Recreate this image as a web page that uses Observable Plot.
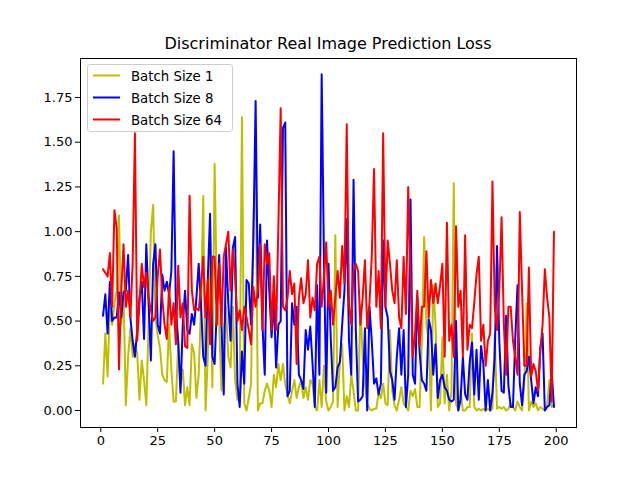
<!DOCTYPE html>
<html>
<head>
<meta charset="utf-8">
<script src="https://cdn.jsdelivr.net/npm/d3@7"></script>
<script src="https://cdn.jsdelivr.net/npm/@observablehq/plot@0.6"></script>
<style>
  html, body { margin: 0; padding: 0; background: white; }
</style>
</head>
<body>
<div id="chart"></div>
<script>
const title = "Discriminator Real Image Prediction Loss";
const seriesNames = ["Batch Size 1", "Batch Size 8", "Batch Size 64"];
const seriesColors = ["#bfbf00", "#0000ff", "#ff0000"];
const xTicks = [0, 25, 50, 75, 100, 125, 150, 175, 200];
const yTicks = [0, 0.25, 0.5, 0.75, 1.0, 1.25, 1.5, 1.75];

const batch1 = [
  0.15, 0.43, 0.19, 0.60, 0.48, 0.60, 0.67, 1.09, 0.48, 0.67,
  0.03, 0.30, 0.46, 0.30, 0.37, 0.32, 0.06, 0.28, 0.17, 0.03,
  0.48, 1.00, 1.15, 0.52, 0.42, 0.35, 0.20, 0.17, 0.16, 0.48,
  0.23, 0.05, 0.05, 0.38, 0.14, 0.23, 0.03, 0.13, 0.03, 0.37,
  0.32, 0.07, 0.20, 0.58, 1.20, 0.00, 0.30, 0.96, 0.13, 1.38,
  0.60, 0.48, 0.11, 0.45, 0.58, 0.30, 0.24, 0.58, 0.17, 0.06,
  0.11, 1.64, 0.04, 0.00, 0.07, 0.15, 1.04, 1.41, 0.00, 0.04,
  0.04, 0.11, 0.15, 0.11, 0.02, 0.20, 0.13, 0.26, 0.17, 0.26,
  0.15, 0.09, 0.04, 0.11, 0.17, 0.07, 0.13, 0.17, 0.07, 0.13,
  0.06, 0.17, 0.15, 0.02, 0.00, 0.17, 0.02, 0.25, 0.05, 0.00,
  0.02, 0.05, 0.98, 0.02, 0.28, 0.37, 0.00, 0.08, 0.02, 0.20,
  0.11, 0.00, 0.00, 0.59, 0.30, 0.15, 0.04, 0.01, 0.00, 0.01,
  0.01, 0.10, 0.07, 0.15, 0.04, 0.03, 0.45, 0.11, 0.03, 0.00,
  0.06, 0.13, 0.04, 0.02, 0.00, 0.11, 0.08, 0.12, 0.02, 0.02,
  0.39, 0.97, 0.48, 0.39, 0.00, 0.70, 0.48, 0.02, 0.04, 0.41,
  0.04, 0.20, 0.00, 0.11, 1.27, 0.04, 0.00, 0.11, 0.00, 0.00,
  0.02, 0.02, 0.43, 0.02, 0.00, 0.01, 0.00, 0.01, 0.00, 0.01,
  0.00, 0.01, 0.43, 0.01, 0.02, 0.01, 0.02, 0.00, 0.01, 0.04,
  0.02, 0.00, 0.05, 0.02, 0.00, 0.15, 0.60, 0.00, 0.05, 0.02,
  0.04, 0.00, 0.02, 0.01, 0.00, 0.03, 0.17, 0.02, 0.03
];

const batch8 = [
  0.53, 0.65, 0.43, 0.72, 0.50, 0.52, 0.52, 0.66, 0.52, 0.66,
  0.67, 0.87, 0.52, 0.39, 0.30, 0.45, 0.63, 0.72, 0.40, 0.93,
  0.60, 0.28, 0.82, 0.93, 0.48, 0.43, 0.76, 0.67, 0.72, 0.65,
  0.78, 1.45, 0.56, 0.39, 0.10, 0.48, 0.67, 0.45, 0.43, 0.54,
  0.48, 0.63, 0.82, 0.60, 0.30, 0.25, 0.74, 1.10, 0.30, 0.26,
  0.58, 0.87, 0.48, 0.09, 0.91, 0.60, 0.39, 0.91, 0.97, 0.15,
  0.02, 0.33, 0.15, 0.73, 0.71, 0.48, 0.95, 1.73, 0.63, 1.04,
  0.48, 0.20, 0.95, 0.67, 0.41, 0.62, 0.24, 0.48, 0.50, 1.58,
  1.61, 0.08, 0.11, 0.60, 0.48, 0.58, 0.20, 0.17, 0.12, 0.45,
  0.34, 0.47, 0.26, 0.02, 0.70, 0.20, 1.88, 0.86, 0.10, 0.82,
  0.40, 0.11, 0.13, 0.24, 0.27, 0.48, 0.67, 1.07, 0.39, 0.20,
  1.29, 0.45, 0.05, 0.06, 0.08, 0.46, 0.00, 0.58, 0.39, 0.15,
  0.18, 0.09, 0.15, 0.95, 0.58, 0.52, 0.22, 0.17, 0.06, 0.30,
  0.46, 0.20, 0.45, 0.02, 0.20, 1.18, 0.20, 0.15, 0.63, 0.33,
  0.17, 0.15, 0.11, 0.51, 0.45, 0.20, 0.37, 0.07, 0.17, 0.20,
  0.13, 0.11, 0.06, 0.05, 0.06, 0.50, 0.00, 0.06, 0.30, 0.09,
  0.06, 0.27, 0.38, 0.09, 0.34, 0.06, 0.36, 0.26, 0.00, 0.17,
  0.00, 0.10, 0.30, 0.92, 0.39, 0.11, 0.10, 0.53, 0.14, 0.02,
  0.02, 0.40, 0.70, 0.15, 0.03, 0.20, 0.22, 0.30, 0.17, 0.04,
  0.13, 0.08, 0.35, 0.43, 0.00, 0.02, 0.03, 0.22, 0.02
];

const batch64 = [
  0.79, 0.77, 0.75, 0.88, 0.58, 1.12, 1.02, 0.23, 0.67, 0.93,
  0.58, 0.67, 0.52, 0.82, 1.55, 0.39, 0.60, 0.82, 0.69, 0.77,
  0.63, 0.56, 0.50, 0.52, 0.75, 0.90, 0.63, 0.48, 0.40, 0.69,
  0.48, 0.60, 0.37, 0.81, 0.52, 0.60, 0.36, 0.35, 1.20, 0.67,
  0.56, 0.57, 0.56, 0.69, 0.86, 0.52, 0.73, 0.37, 0.86, 0.86,
  0.48, 0.82, 0.48, 0.86, 0.93, 1.00, 0.67, 0.90, 0.74, 0.50,
  0.56, 0.45, 0.58, 0.52, 0.45, 0.37, 0.69, 0.58, 0.67, 0.93,
  0.45, 0.93, 0.82, 0.88, 0.45, 0.75, 0.45, 1.04, 1.69, 0.58,
  0.56, 0.63, 0.78, 0.65, 0.71, 0.26, 0.63, 0.74, 0.60, 0.65,
  0.84, 0.52, 0.63, 0.56, 0.82, 0.86, 0.58, 0.74, 0.94, 0.58,
  0.67, 0.48, 0.63, 0.78, 0.63, 0.92, 0.71, 1.60, 0.60, 0.48,
  0.78, 0.82, 0.78, 0.48, 0.63, 0.84, 0.46, 0.60, 0.86, 1.35,
  0.58, 0.78, 0.46, 1.55, 0.58, 0.95, 0.82, 0.67, 0.60, 0.84,
  0.52, 0.46, 0.86, 0.54, 1.25, 0.75, 0.30, 0.43, 0.67, 0.36,
  0.58, 0.58, 0.89, 0.52, 0.73, 0.60, 0.71, 0.60, 0.70, 0.82,
  0.30, 1.05, 0.39, 0.48, 0.30, 1.03, 0.58, 0.67, 0.30, 0.98,
  0.34, 0.48, 0.46, 0.60, 0.76, 0.86, 0.39, 0.48, 0.25, 0.39,
  0.43, 1.28, 0.58, 0.45, 0.67, 1.08, 0.48, 0.20, 0.58, 0.58,
  0.39, 0.30, 0.20, 1.11, 0.67, 0.25, 0.25, 0.80, 0.19, 0.26,
  0.22, 0.11, 0.33, 0.48, 0.79, 0.63, 0.52, 0.05, 1.00
];

const allSeries = [batch1, batch8, batch64];
const rows = [];
allSeries.forEach((vals, i) => {
  vals.forEach((v, j) => rows.push({epoch: j + 1, loss: v, series: seriesNames[i]}));
});

const W = 640, H = 480;
const mL = 80, mR = 64, mT = 58, mB = 53;

const chart = Plot.plot({
  width: W,
  height: H,
  marginLeft: mL,
  marginRight: mR,
  marginTop: mT,
  marginBottom: mB,
  style: {fontFamily: "DejaVu Sans", fontSize: "13px", color: "black", background: "white", overflow: "visible"},
  x: {domain: [-8.9, 208.9]},
  y: {domain: [-0.095, 1.968]},
  color: {domain: seriesNames, range: seriesColors},
  marks: [
    Plot.line(rows, {x: "epoch", y: "loss", z: "series", stroke: "series", strokeWidth: 2, strokeLinejoin: "round"}),
    Plot.frame({stroke: "black", strokeWidth: 1}),
    Plot.axisX({ticks: xTicks, tickFormat: d => String(d), tickSize: 5, tickPadding: 3, label: null, fontSize: 13}),
    Plot.axisY({ticks: yTicks, tickFormat: d => d.toFixed(2), tickSize: 5, tickPadding: 3, label: null, fontSize: 13})
  ]
});

document.getElementById("chart").appendChild(chart);

const svg = d3.select(chart);
svg.append("text")
  .attr("x", (mL + (W - mR)) / 2)
  .attr("y", 49)
  .attr("text-anchor", "middle")
  .attr("font-family", "DejaVu Sans")
  .attr("font-size", 16)
  .attr("fill", "black")
  .text(title);

const lg = svg.append("g");
lg.append("rect")
  .attr("x", 87.5).attr("y", 64.5)
  .attr("width", 145).attr("height", 67)
  .attr("rx", 3).attr("ry", 3)
  .attr("fill", "white").attr("fill-opacity", 0.8)
  .attr("stroke", "#cccccc");
seriesNames.forEach((name, i) => {
  const cy = 75.5 + i * 22;
  lg.append("line")
    .attr("x1", 93).attr("x2", 120)
    .attr("y1", cy).attr("y2", cy)
    .attr("stroke", seriesColors[i]).attr("stroke-width", 2);
  lg.append("text")
    .attr("x", 131).attr("y", cy + 5)
    .attr("text-anchor", "start")
    .attr("font-family", "DejaVu Sans")
    .attr("font-size", 13.3)
    .attr("fill", "black")
    .text(name);
});
</script>
</body>
</html>
